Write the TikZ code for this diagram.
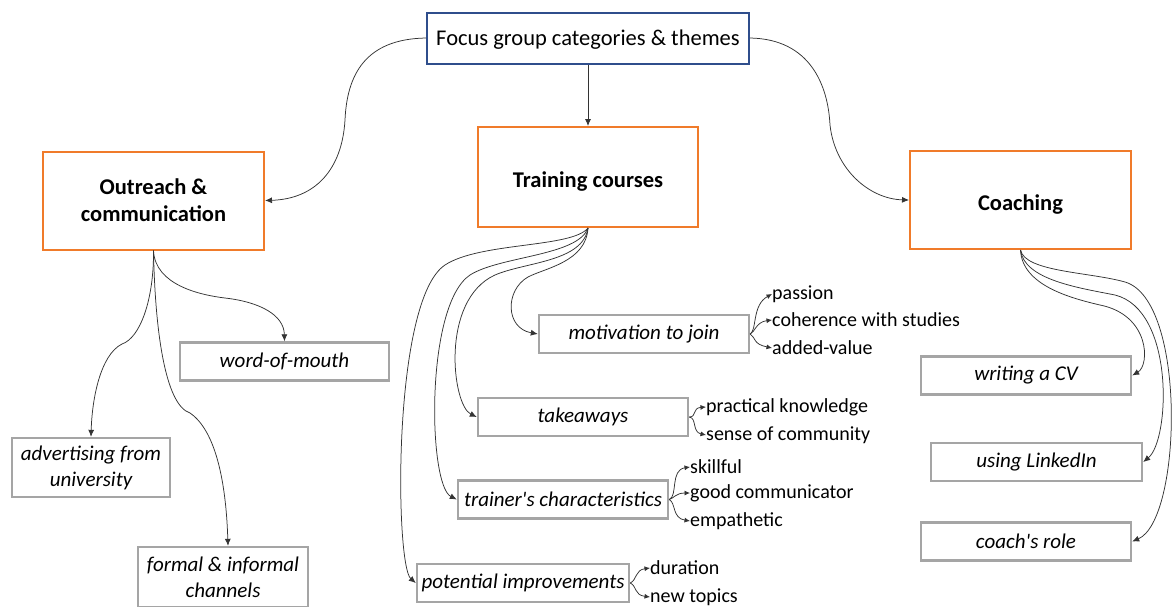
\documentclass[tikz,border=0pt]{standalone}
\usepackage{fontspec}
\setmainfont{Carlito}
\usetikzlibrary{arrows.meta}
\definecolor{orng}{HTML}{F07B2A}
\definecolor{navyb}{HTML}{2F4E8C}
\definecolor{grayb}{HTML}{A5A5A5}
\definecolor{linec}{HTML}{333333}
\begin{document}
\begin{tikzpicture}[x=1pt,y=-1pt,
  rootbox/.style={draw=navyb, line width=2pt, inner sep=0pt, minimum width=322pt, minimum height=51pt, text height=19pt, text depth=4.5pt, font=\fontsize{22.5}{27}\selectfont},
  catbox/.style={draw=orng, line width=2pt, inner sep=0pt, minimum width=221pt, minimum height=98pt, align=center, font=\fontsize{22.5}{27}\selectfont\bfseries},
  onecat/.style={text height=25pt, text depth=4.5pt},
  themebox/.style={draw=grayb, line width=2.4pt, inner sep=0pt, minimum width=210pt, minimum height=38pt, align=center, font=\fontsize{21}{26}\selectfont\itshape},
  sub/.style={anchor=west, inner sep=0pt, font=\fontsize{20}{24}\selectfont},
  conn/.style={draw=linec, line width=0.75pt, -{Latex[length=7pt,width=6pt]}},
  small/.style={draw=linec, line width=0.75pt, -{Latex[length=5.5pt,width=5pt]}}
]
\useasboundingbox (0,0) rectangle (1174,606);

% main nodes
\node[rootbox] (root) at (588,38) {Focus group categories \& themes};
\node[catbox] (outreach) at (153.5,200.5) {Outreach \&\\communication};
\node[catbox, onecat, minimum width=220pt, minimum height=100pt] (training) at (588,177) {Training courses};
\node[catbox, onecat] (coaching) at (1020.5,200) {Coaching};

% outreach themes
\node[themebox, minimum width=209pt] (wom) at (284.5,361.5) {word-of-mouth};
\node[themebox, minimum width=158pt, minimum height=59pt] (adv) at (91,467.5) {advertising from\\university};
\node[themebox, minimum width=170pt, minimum height=60pt] (formal) at (223,577) {formal \& informal\\channels};

% training themes
\node[themebox] (motiv) at (644,334) {motivation to join};
\node[themebox] (take) at (583,417) {takeaways};
\node[themebox] (trainer) at (563,499.5) {trainer\textquotesingle s characteristics};
\node[themebox, minimum width=212pt] (potential) at (523,583) {potential improvements};

% coaching themes
\node[themebox] (cv) at (1026,375.5) {writing a CV};
\node[themebox, minimum width=211pt] (linkedin) at (1036.5,462) {using LinkedIn};
\node[themebox] (role) at (1026,541.5) {coach\textquotesingle s role};

% sub labels
\node[sub] (passion) at (772,294) {passion};
\node[sub] (coherence) at (772,320) {coherence with studies};
\node[sub] (added) at (772,348) {added-value};
\node[sub] (practical) at (706,407) {practical knowledge};
\node[sub] (sense) at (706,435) {sense of community};
\node[sub] (skillful) at (690,467) {skillful};
\node[sub] (goodc) at (690,493) {good communicator};
\node[sub] (empath) at (690,521) {empathetic};
\node[sub] (duration) at (650,568) {duration};
\node[sub] (newt) at (650,597) {new topics};

% root connectors
\draw[conn] (root.west) .. controls (365,39) and (347,75) .. (345,120) .. controls (342,170) and (315,199) .. (outreach.east);
\draw[conn] (root.south) -- (training.north);
\draw[conn] (root.east) .. controls (810,39) and (828,85) .. (830,125) .. controls (835,170) and (870,199) .. (coaching.west);

% outreach connectors
\draw[conn] (outreach.south) .. controls (155,285) and (200,295) .. (225,298) .. controls (260,302) and (284,315) .. (wom.north);
\draw[conn] (outreach.south) .. controls (154,300) and (140,338) .. (122,344) .. controls (100,355) and (92,400) .. (adv.north);
\draw[conn] (outreach.south) .. controls (155,330) and (165,405) .. (190,413) .. controls (215,430) and (226,480) .. ([xshift=5pt]formal.north);

% training connectors
\draw[conn] (training.south) .. controls (586,262) and (545,268) .. (528,277) .. controls (505,290) and (505,328) .. (motiv.west);
\draw[conn] (training.south) .. controls (583,262) and (525,262) .. (495,275) .. controls (440,300) and (452,405) .. (take.west);
\draw[conn] (training.south) .. controls (578,256) and (500,256) .. (470,275) .. controls (425,305) and (428,485) .. (trainer.west);
\draw[conn] (training.south) .. controls (572,248) and (480,242) .. (445,265) .. controls (392,300) and (395,565) .. (potential.west);

% coaching connectors
\draw[conn] (coaching.south) .. controls (1022,285) and (1070,298) .. (1100,305) .. controls (1150,315) and (1150,365) .. (cv.east);
\draw[conn] (coaching.south) .. controls (1024,280) and (1080,288) .. (1115,295) .. controls (1175,310) and (1170,440) .. (linkedin.east);
\draw[conn] (coaching.south) .. controls (1025,272) and (1090,272) .. (1125,282) .. controls (1187,300) and (1182,520) .. (role.east);

% small branch arrows
\draw[small] (motiv.east) .. controls (757,330) and (752,305) .. (passion.west);
\draw[small] (motiv.east) .. controls (755,332) and (756,322) .. (coherence.west);
\draw[small] (motiv.east) .. controls (756,338) and (753,344) .. (added.west);
\draw[small] (take.east) .. controls (697,417) and (692,408) .. (practical.west);
\draw[small] (take.east) .. controls (697,418) and (692,432) .. (sense.west);
\draw[small] (trainer.east) .. controls (678,496) and (670,470) .. (skillful.west);
\draw[small] (trainer.east) .. controls (674,498) and (676,493) .. (goodc.west);
\draw[small] (trainer.east) .. controls (676,503) and (672,518) .. (empath.west);
\draw[small] (potential.east) .. controls (637,580) and (635,570) .. (duration.west);
\draw[small] (potential.east) .. controls (637,586) and (634,595) .. (newt.west);
\end{tikzpicture}
\end{document}
